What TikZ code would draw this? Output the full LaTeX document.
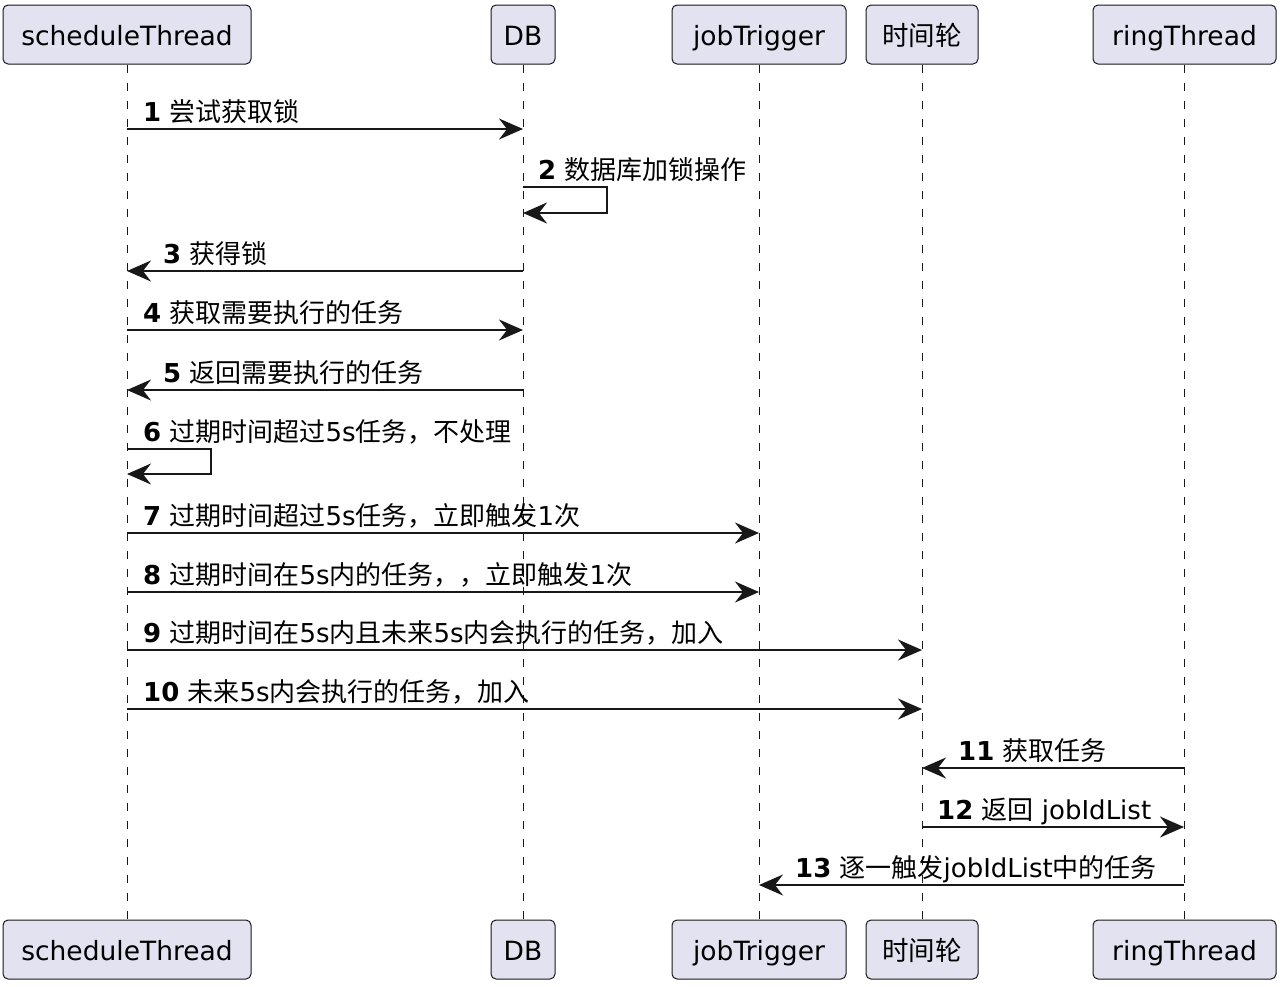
\documentclass[tikz,border=0pt]{standalone}
\usepackage{fontspec}
\setmainfont{DejaVu Sans}
\newfontfamily\cjk{Noto Sans CJK SC}
\usetikzlibrary{arrows.meta}
\definecolor{boxfill}{HTML}{E2E2F0}
\definecolor{ink}{HTML}{181818}
\tikzset{
  part/.style={draw=ink, fill=boxfill, rounded corners=5pt, line width=1pt,
    minimum height=59pt, inner sep=0pt, text=black, text height=27pt, text depth=6pt,
    font=\fontsize{26.5}{30}\selectfont},
  msg/.style={line width=1.5pt, draw=ink, -{Stealth[length=24pt,width=21pt,inset=8pt]}},
  lbl/.style={anchor=base west, inner sep=0pt, font=\fontsize{26}{30}\selectfont},
  life/.style={line width=1pt, draw=ink, dash pattern=on 8pt off 10pt}
}
\begin{document}
\begin{tikzpicture}[x=1pt,y=-1pt]
\useasboundingbox (0,0) rectangle (1280,986);
% participants top
\node[part, minimum width=248pt] (pS) at (127,34.5) {scheduleThread};
\node[part, minimum width=64pt]  (pD) at (523,34.5) {DB};
\node[part, minimum width=174pt] (pJ) at (759,34.5) {jobTrigger};
\node[part, minimum width=112pt] (pT) at (922,34.5) {\cjk 时间轮};
\node[part, minimum width=183pt] (pR) at (1184.5,34.5) {ringThread};
% participants bottom
\node[part, minimum width=248pt] (qS) at (127,949.5) {scheduleThread};
\node[part, minimum width=64pt]  (qD) at (523,949.5) {DB};
\node[part, minimum width=174pt] (qJ) at (759,949.5) {jobTrigger};
\node[part, minimum width=112pt] (qT) at (922,949.5) {\cjk 时间轮};
\node[part, minimum width=183pt] (qR) at (1184.5,949.5) {ringThread};
% lifelines
\draw[life] (pS.south) -- (qS.north);
\draw[life] (pD.south) -- (qD.north);
\draw[life] (pJ.south) -- (qJ.north);
\draw[life] (pT.south) -- (qT.north);
\draw[life] (pR.south) -- (qR.north);
% coordinates
\coordinate (a1) at (127,129); \coordinate (b1) at (523,129);
\coordinate (a2) at (523,187); \coordinate (b2) at (523,213);
\coordinate (a3) at (523,271); \coordinate (b3) at (127,271);
\coordinate (a4) at (127,330); \coordinate (b4) at (523,330);
\coordinate (a5) at (523,390); \coordinate (b5) at (127,390);
\coordinate (a6) at (127,449); \coordinate (b6) at (127,474);
\coordinate (a7) at (127,533); \coordinate (b7) at (759,533);
\coordinate (a8) at (127,592); \coordinate (b8) at (759,592);
\coordinate (a9) at (127,650); \coordinate (b9) at (922,650);
\coordinate (a10) at (127,709); \coordinate (b10) at (922,709);
\coordinate (a11) at (1184,768); \coordinate (b11) at (922,768);
\coordinate (a12) at (922,827); \coordinate (b12) at (1184,827);
\coordinate (a13) at (1184,885); \coordinate (b13) at (759,885);
% messages
\draw[msg] (a1) -- (b1);
\draw[msg] (a2) -- ++(84,0) |- (b2);
\draw[msg] (a3) -- (b3);
\draw[msg] (a4) -- (b4);
\draw[msg] (a5) -- (b5);
\draw[msg] (a6) -- ++(84,0) |- (b6);
\draw[msg] (a7) -- (b7);
\draw[msg] (a8) -- (b8);
\draw[msg] (a9) -- (b9);
\draw[msg] (a10) -- (b10);
\draw[msg] (a11) -- (b11);
\draw[msg] (a12) -- (b12);
\draw[msg] (a13) -- (b13);
% labels
\node[lbl] (l1) at (143,121) {\textbf{1} {\cjk 尝试获取锁}};
\node[lbl] (l2) at (538,179) {\textbf{2} {\cjk 数据库加锁操作}};
\node[lbl] (l3) at (163,263) {\textbf{3} {\cjk 获得锁}};
\node[lbl] (l4) at (143,322) {\textbf{4} {\cjk 获取需要执行的任务}};
\node[lbl] (l5) at (163,382) {\textbf{5} {\cjk 返回需要执行的任务}};
\node[lbl] (l6) at (143,441) {\textbf{6} {\cjk 过期时间超过}5s{\cjk 任务，不处理}};
\node[lbl] (l7) at (143,525) {\textbf{7} {\cjk 过期时间超过}5s{\cjk 任务，立即触发}1{\cjk 次}};
\node[lbl] (l8) at (143,584) {\textbf{8} {\cjk 过期时间在}5s{\cjk 内的任务，，立即触发}1{\cjk 次}};
\node[lbl] (l9) at (143,642) {\textbf{9} {\cjk 过期时间在}5s{\cjk 内且未来}5s{\cjk 内会执行的任务，加入}};
\node[lbl] (l10) at (143,701) {\textbf{10} {\cjk 未来}5s{\cjk 内会执行的任务，加入}};
\node[lbl] (l11) at (958,760) {\textbf{11} {\cjk 获取任务}};
\node[lbl] (l12) at (937,819) {\textbf{12} {\cjk 返回} jobIdList};
\node[lbl] (l13) at (795,877) {\textbf{13} {\cjk 逐一触发}jobIdList{\cjk 中的任务}};
\end{tikzpicture}
\end{document}
